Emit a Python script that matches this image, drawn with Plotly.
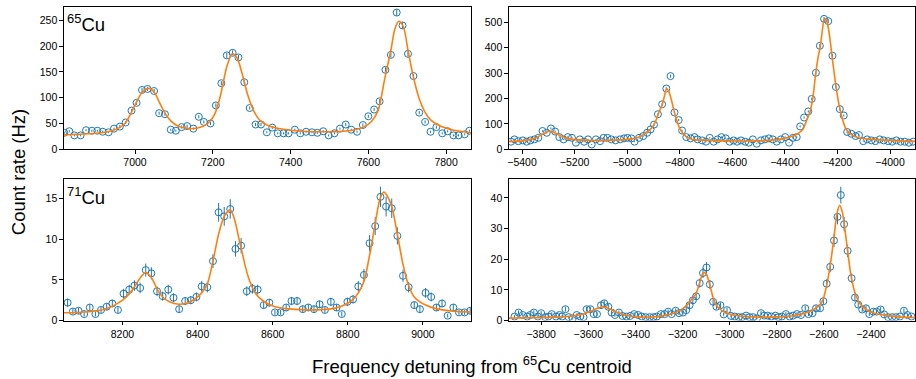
import plotly.graph_objects as go

# ---------------- data: 65Cu, low-frequency group (top-left) ----------------
tl_x = [6818, 6831, 6844, 6860, 6874, 6889, 6903, 6917, 6932, 6946, 6961, 6976, 6991, 7004, 7018,
        7032, 7049, 7062, 7077, 7092, 7105, 7120, 7134, 7150, 7164, 7177, 7194, 7208, 7222, 7236,
        7251, 7266, 7281, 7295, 7310, 7324, 7339, 7353, 7367, 7382, 7395, 7411, 7425, 7440, 7455,
        7469, 7484, 7498, 7513, 7527, 7542, 7556, 7571, 7586, 7600, 7615, 7629, 7644, 7658, 7673,
        7688, 7702, 7716, 7731, 7746, 7760, 7775, 7790, 7804, 7819, 7832, 7848, 7860]
tl_y = [32, 35, 27, 27, 37, 36, 36, 34, 33, 40, 44, 52, 75, 90, 115,
        117, 113, 70, 68, 38, 36, 43, 45, 40, 63, 53, 50, 85, 128, 182,
        187, 178, 130, 80, 48, 48, 33, 42, 31, 31, 31, 38, 31, 34, 33,
        32, 35, 27, 31, 40, 48, 38, 34, 47, 64, 77, 93, 154, 183, 265,
        240, 185, 142, 71, 53, 34, 43, 31, 35, 27, 27, 29, 36]
tl_err = [2, 2, 2, 2, 2, 2, 2, 2, 2, 2, 3, 3, 3, 4, 4,
          4, 4, 3, 3, 2, 2, 3, 3, 2, 3, 3, 3, 4, 4, 5,
          5, 5, 4, 3, 3, 3, 2, 3, 2, 2, 2, 2, 2, 2, 2,
          2, 2, 2, 2, 2, 3, 2, 2, 3, 3, 3, 4, 5, 5, 6,
          6, 5, 4, 3, 3, 2, 3, 2, 2, 2, 2, 2, 2]
tl_fit_x = [6816, 6880, 6930, 6960, 6976, 6991, 7004, 7018, 7036, 7050, 7062, 7077, 7092, 7110,
            7140, 7170, 7190, 7205, 7220, 7236, 7250, 7262, 7275, 7290, 7305, 7320, 7345, 7400,
            7500, 7560, 7590, 7608, 7625, 7643, 7658, 7668, 7678, 7690, 7702, 7716, 7730, 7745,
            7760, 7785, 7820, 7865]
tl_fit_y = [28, 30, 34, 42, 52, 72, 92, 110, 118, 110, 92, 70, 55, 45,
            40, 43, 52, 68, 105, 160, 185, 178, 148, 105, 75, 57, 45, 37,
            34, 37, 44, 54, 75, 140, 192, 232, 248, 238, 192, 140, 100, 73,
            57, 45, 37, 32]

# ---------------- data: 65Cu, high-frequency group (top-right) ----------------
tr_x = [-5442, -5429, -5414, -5397, -5382, -5368, -5353, -5338, -5322, -5306, -5290, -5274, -5258,
        -5242, -5226, -5210, -5195, -5180, -5164, -5149, -5135, -5119, -5103, -5090, -5075, -5060,
        -5044, -5027, -5012, -4999, -4984, -4972, -4955, -4939, -4924, -4911, -4898, -4883, -4867,
        -4851, -4835, -4820, -4804, -4791, -4775, -4759, -4744, -4732, -4715, -4700, -4686, -4671,
        -4656, -4641, -4625, -4610, -4595, -4582, -4567, -4551, -4537, -4522, -4507, -4491, -4476,
        -4461, -4446, -4431, -4415, -4399, -4384, -4370, -4355, -4342, -4327, -4311, -4298, -4282,
        -4267, -4251, -4235, -4219, -4206, -4191, -4176, -4163, -4147, -4131, -4118, -4102, -4087,
        -4071, -4056, -4039, -4024, -4007, -3992, -3976, -3960, -3944, -3928, -3912]
tr_y = [30, 39, 32, 35, 30, 35, 39, 45, 72, 65, 82, 70, 48,
        39, 48, 45, 26, 39, 30, 39, 19, 39, 32, 45, 45, 39,
        35, 39, 43, 45, 43, 30, 45, 52, 65, 78, 97, 138, 177,
        239, 288, 145, 115, 74, 48, 43, 48, 39, 35, 30, 45, 30,
        39, 48, 43, 30, 35, 30, 35, 30, 26, 39, 22, 35, 39,
        43, 39, 30, 39, 48, 26, 45, 48, 90, 125, 149, 198, 301,
        407, 513, 504, 368, 245, 158, 133, 68, 61, 52, 56, 32, 39,
        35, 32, 39, 35, 32, 30, 35, 30, 30, 26, 30]
tr_err = [2, 2, 2, 2, 2, 2, 2, 3, 3, 3, 4, 3, 3,
          2, 3, 3, 2, 2, 2, 2, 2, 2, 2, 3, 3, 2,
          2, 2, 3, 3, 3, 2, 3, 3, 3, 3, 4, 4, 5,
          5, 6, 4, 4, 3, 3, 3, 3, 2, 2, 2, 3, 2,
          2, 3, 3, 2, 2, 2, 2, 2, 2, 2, 2, 2, 2,
          3, 2, 2, 2, 3, 2, 3, 3, 4, 4, 4, 5, 6,
          7, 8, 8, 7, 5, 5, 4, 3, 3, 3, 3, 2, 2,
          2, 2, 2, 2, 2, 2, 2, 2, 2, 2, 2]
tr_fit_x = [-5450, -5400, -5370, -5347, -5325, -5310, -5296, -5280, -5265, -5252, -5230, -5208,
            -5150, -5050, -4990, -4960, -4942, -4928, -4917, -4905, -4898, -4890, -4882, -4875,
            -4867, -4858, -4850, -4842, -4833, -4825, -4816, -4808, -4801, -4793, -4785, -4770,
            -4753, -4720, -4600, -4480, -4430, -4395, -4375, -4357, -4345, -4332, -4319, -4304,
            -4294, -4282, -4274, -4265, -4256, -4250, -4242, -4235, -4228, -4221, -4213, -4206,
            -4194, -4180, -4168, -4158, -4150, -4120, -4080, -4000, -3905]
tr_fit_y = [31, 33, 38, 45, 58, 66, 71, 67, 59, 52, 44, 39,
            35, 36, 40, 46, 56, 66, 74, 86, 97, 115, 138, 155,
            174, 210, 239, 228, 200, 165, 129, 104, 84, 70, 58, 47,
            39, 36, 33, 34, 38, 45, 50, 58, 66, 78, 110, 149,
            200, 304, 360, 407, 480, 512, 508, 478, 430, 368, 305, 250,
            175, 115, 80, 68, 60, 45, 40, 35, 31]

# ---------------- data: 71Cu, low-frequency group (bottom-left) ----------------
bl_x = [8054, 8068, 8083, 8098, 8113, 8128, 8143, 8158, 8173, 8188, 8203, 8218, 8232, 8247, 8262,
        8277, 8292, 8307, 8322, 8336, 8351, 8367, 8382, 8397, 8411, 8426, 8441, 8456, 8471, 8487,
        8501, 8516, 8531, 8546, 8560, 8576, 8591, 8606, 8621, 8636, 8650, 8665, 8680, 8695, 8710,
        8725, 8739, 8755, 8770, 8784, 8799, 8814, 8828, 8843, 8858, 8873, 8887, 8902, 8917, 8932,
        8947, 8962, 8977, 8992, 9007, 9022, 9036, 9051, 9066, 9081, 9096, 9111, 9126]
bl_y = [2.2, 1.1, 1.2, 0.8, 1.6, 0.8, 1.3, 1.7, 2.1, 1.3, 3.3, 3.8, 4.3, 4.0, 6.2,
        5.8, 3.6, 3.0, 3.8, 2.8, 1.4, 2.4, 2.5, 2.9, 4.2, 4.1, 7.3, 13.3, 12.8, 13.7,
        8.8, 9.2, 3.6, 3.9, 3.8, 1.9, 2.2, 1.0, 1.0, 1.6, 2.4, 2.4, 1.4, 1.6, 1.4,
        2.0, 1.3, 2.3, 1.6, 0.8, 2.3, 2.6, 4.2, 5.6, 9.5, 11.6, 15.2, 14.0, 13.8, 10.4,
        5.5, 4.1, 1.9, 1.4, 3.4, 2.9, 1.6, 2.1, 0.6, 1.6, 1.0, 1.0, 1.2]
bl_err = [0.5, 0.35, 0.35, 0.3, 0.4, 0.3, 0.35, 0.4, 0.45, 0.35, 0.6, 0.6, 0.65, 0.65, 0.8,
          0.75, 0.6, 0.55, 0.6, 0.55, 0.4, 0.5, 0.5, 0.55, 0.65, 0.65, 0.85, 1.15, 1.15, 1.2,
          0.95, 0.95, 0.6, 0.6, 0.6, 0.45, 0.45, 0.3, 0.3, 0.4, 0.5, 0.5, 0.4, 0.4, 0.4,
          0.45, 0.35, 0.5, 0.4, 0.3, 0.5, 0.5, 0.65, 0.75, 1.0, 1.1, 1.25, 1.2, 1.2, 1.05,
          0.75, 0.65, 0.45, 0.4, 0.6, 0.55, 0.4, 0.45, 0.25, 0.4, 0.3, 0.3, 0.35]
bl_fit_x = [8043, 8100, 8150, 8175, 8203, 8220, 8234, 8248, 8262, 8277, 8292, 8307, 8325, 8350,
            8375, 8397, 8411, 8426, 8441, 8456, 8471, 8487, 8498, 8508, 8518, 8528, 8540, 8555,
            8575, 8600, 8650, 8700, 8750, 8785, 8814, 8828, 8843, 8858, 8873, 8886, 8896, 8904,
            8917, 8932, 8947, 8962, 8977, 9007, 9040, 9080, 9128]
bl_fit_y = [0.95, 1.05, 1.35, 1.8, 2.6, 3.4, 4.3, 5.3, 5.9, 5.3, 3.9, 2.9, 2.3, 2.0,
            2.2, 2.8, 3.4, 4.5, 7.3, 10.6, 12.8, 13.6, 12.5, 10.5, 8.5, 6.5, 4.7, 3.3,
            2.4, 1.8, 1.4, 1.3, 1.4, 1.8, 2.6, 3.4, 4.8, 8.0, 11.9, 15.0, 15.8, 15.4,
            14.0, 10.6, 6.9, 4.3, 2.9, 1.9, 1.4, 1.15, 1.05]

# ---------------- data: 71Cu, high-frequency group (bottom-right) ----------------
br_x = [-3913, -3896, -3878, -3859, -3847, -3831, -3814, -3800, -3783, -3769, -3755, -3737, -3722,
        -3711, -3697, -3683, -3666, -3649, -3634, -3620, -3607, -3591, -3577, -3563, -3546, -3532,
        -3515, -3501, -3487, -3470, -3455, -3438, -3422, -3405, -3388, -3373, -3356, -3339, -3323,
        -3309, -3292, -3276, -3261, -3246, -3229, -3215, -3198, -3184, -3170, -3156, -3142, -3127,
        -3113, -3098, -3084, -3070, -3056, -3039, -3025, -3011, -2994, -2978, -2961, -2947, -2930,
        -2915, -2900, -2884, -2867, -2853, -2838, -2823, -2806, -2792, -2778, -2761, -2745, -2731,
        -2714, -2697, -2679, -2665, -2648, -2633, -2616, -2602, -2588, -2573, -2557, -2542, -2528,
        -2514, -2499, -2482, -2468, -2454, -2437, -2421, -2407, -2390, -2376, -2359, -2344, -2327,
        -2310, -2294, -2277, -2260, -2245, -2228]
br_y = [1.3, 2.6, 1.8, 1.3, 1.8, 2.6, 1.3, 2.4, 1.1, 1.3, 2.1, 1.3, 1.8,
        1.3, 3.7, 1.1, 0.7, 1.8, 1.3, 1.1, 3.7, 3.7, 2.1, 2.1, 5.0, 5.6,
        4.5, 2.6, 1.8, 2.6, 1.5, 1.3, 1.5, 2.1, 1.8, 1.3, 1.1, 1.1, 1.1,
        1.3, 2.1, 2.1, 2.9, 2.1, 3.2, 2.4, 2.6, 3.4, 5.0, 6.6, 7.9, 12.2,
        15.5, 17.3, 11.8, 6.1, 4.5, 5.0, 2.0, 3.4, 1.5, 1.3, 1.1, 1.1, 1.6,
        1.1, 1.1, 0.7, 2.4, 1.6, 1.6, 1.3, 1.6, 1.1, 1.3, 2.1, 1.3, 1.6,
        2.1, 1.8, 4.0, 2.1, 2.4, 4.0, 4.0, 6.3, 12.0, 17.5, 26.1, 33.8, 40.9,
        31.4, 22.7, 13.8, 7.5, 5.2, 3.6, 4.0, 2.1, 2.9, 2.9, 3.6, 2.0, 1.1,
        1.1, 1.1, 1.3, 3.2, 1.8, 1.3]
br_err = [0.5, 0.7, 0.55, 0.5, 0.55, 0.7, 0.5, 0.65, 0.45, 0.5, 0.6, 0.5, 0.55,
          0.5, 0.8, 0.45, 0.35, 0.55, 0.5, 0.45, 0.8, 0.8, 0.6, 0.6, 0.95, 1.0,
          0.9, 0.7, 0.55, 0.7, 0.5, 0.5, 0.5, 0.6, 0.55, 0.5, 0.45, 0.45, 0.45,
          0.5, 0.6, 0.6, 0.7, 0.6, 0.75, 0.65, 0.7, 0.8, 0.95, 1.1, 1.2, 1.45,
          1.65, 1.75, 1.45, 1.05, 0.9, 0.95, 0.6, 0.8, 0.5, 0.5, 0.45, 0.45, 0.55,
          0.45, 0.45, 0.35, 0.65, 0.55, 0.55, 0.5, 0.55, 0.45, 0.5, 0.6, 0.5, 0.55,
          0.6, 0.55, 0.85, 0.6, 0.65, 0.85, 0.85, 1.05, 1.45, 1.75, 2.15, 2.45, 2.7,
          2.35, 2.0, 1.55, 1.15, 0.95, 0.8, 0.85, 0.6, 0.7, 0.7, 0.8, 0.6, 0.45,
          0.45, 0.45, 0.5, 0.75, 0.55, 0.5]
br_fit_x = [-3937, -3850, -3750, -3680, -3640, -3610, -3585, -3560, -3540, -3525, -3505, -3485,
            -3460, -3420, -3370, -3320, -3280, -3250, -3225, -3200, -3184, -3170, -3156, -3142,
            -3127, -3115, -3108, -3098, -3084, -3070, -3056, -3039, -3020, -2990, -2950, -2880,
            -2800, -2740, -2700, -2665, -2640, -2616, -2602, -2588, -2573, -2557, -2545, -2533,
            -2522, -2510, -2499, -2485, -2470, -2455, -2437, -2410, -2380, -2330, -2280, -2213]
br_fit_y = [0.8, 0.9, 1.1, 1.4, 1.8, 2.4, 3.2, 4.0, 4.4, 4.3, 3.7, 2.9,
            2.1, 1.4, 1.1, 1.2, 1.6, 2.1, 2.8, 3.8, 4.8, 6.0, 7.4, 8.9,
            12.4, 15.2, 15.7, 15.0, 11.6, 7.5, 5.0, 3.6, 2.7, 1.9, 1.4, 1.1,
            1.2, 1.5, 2.0, 2.8, 3.8, 5.2, 7.2, 11.5, 18.0, 27.0, 34.5, 37.6,
            35.5, 29.5, 22.7, 14.8, 9.6, 6.6, 4.6, 3.1, 2.3, 1.6, 1.2, 1.0]

# tick values and axis ranges
tl_xticks = [7000, 7200, 7400, 7600, 7800]
tl_yticks = [0, 50, 100, 150, 200, 250]
tr_xticks = [-5400, -5200, -5000, -4800, -4600, -4400, -4200, -4000]
tr_yticks = [0, 100, 200, 300, 400, 500]
bl_xticks = [8200, 8400, 8600, 8800, 9000]
bl_yticks = [0, 5, 10, 15]
br_xticks = [-3800, -3600, -3400, -3200, -3000, -2800, -2600, -2400]
br_yticks = [0, 10, 20, 30, 40]

panels = [
    (tl_x, tl_y, tl_err, tl_fit_x, tl_fit_y),
    (tr_x, tr_y, tr_err, tr_fit_x, tr_fit_y),
    (bl_x, bl_y, bl_err, bl_fit_x, bl_fit_y),
    (br_x, br_y, br_err, br_fit_x, br_fit_y),
]
for p in panels:
    assert len(p[0]) == len(p[1]) == len(p[2]), (len(p[0]), len(p[1]), len(p[2]))
    assert len(p[3]) == len(p[4]), (len(p[3]), len(p[4]))

BLUE = "#1f77b4"
ORANGE = "#ff7f0e"
W, H = 916, 379
FONT = "Liberation Sans, Arial, sans-serif"

fig = go.Figure()
for i, (x, y, e, fx, fy) in enumerate(panels):
    xa = "x" if i == 0 else f"x{i+1}"
    ya = "y" if i == 0 else f"y{i+1}"
    fig.add_trace(go.Scatter(
        x=x, y=y, mode="markers", xaxis=xa, yaxis=ya,
        marker=dict(symbol="circle-open", size=7, color=BLUE, line=dict(width=1, color=BLUE)),
        error_y=dict(type="data", array=e, visible=True, width=0, thickness=1, color=BLUE),
        showlegend=False, cliponaxis=True))
    fig.add_trace(go.Scatter(
        x=fx, y=fy, mode="lines", xaxis=xa, yaxis=ya,
        line=dict(color=ORANGE, width=1.6, shape="spline", smoothing=0.8),
        showlegend=False))

L = [62 / W, 470 / W]
R = [508 / W, 915 / W]
T = [1 - 151.7 / H, 1 - 7.3 / H]
B = [1 - 325.7 / H, 1 - 182.3 / H]


def ax(domain, rng, ticks, anchor):
    return dict(domain=domain, range=rng, anchor=anchor, tickmode="array", tickvals=ticks,
                showline=True, mirror=True, linecolor="black", linewidth=1,
                ticks="outside", ticklen=3.5, tickwidth=1, tickcolor="black",
                showgrid=False, zeroline=False,
                tickfont=dict(family=FONT, size=10.5, color="black"))


fig.update_layout(
    width=W, height=H, margin=dict(l=0, r=0, t=0, b=0),
    paper_bgcolor="white", plot_bgcolor="white", showlegend=False,
    xaxis=ax(L, [6817, 7864], tl_xticks, "y"),
    yaxis=ax(T, [0, 275.4], tl_yticks, "x"),
    xaxis2=ax(R, [-5450, -3905], tr_xticks, "y2"),
    yaxis2=ax(T, [0, 559], tr_yticks, "x2"),
    xaxis3=ax(L, [8044, 9128], bl_xticks, "y3"),
    yaxis3=ax(B, [0, 17.34], bl_yticks, "x3"),
    xaxis4=ax(R, [-3937, -2213], br_xticks, "y4"),
    yaxis4=ax(B, [0, 46.0], br_yticks, "x4"),
)

fig.add_annotation(text="<sup>65</sup>Cu", xref="x domain", yref="y domain", x=0.004, y=0.985,
                   xanchor="left", yanchor="top", showarrow=False,
                   font=dict(family=FONT, size=18.5, color="black"))
fig.add_annotation(text="<sup>71</sup>Cu", xref="x3 domain", yref="y3 domain", x=0.004, y=0.985,
                   xanchor="left", yanchor="top", showarrow=False,
                   font=dict(family=FONT, size=18.5, color="black"))
fig.add_annotation(text="Frequency detuning from <sup>65</sup>Cu centroid", xref="paper", yref="paper",
                   x=471 / W, y=1 - 371 / H, xanchor="center", yanchor="middle", showarrow=False,
                   font=dict(family=FONT, size=18.5, color="black"))
fig.add_annotation(text="Count rate (Hz)", xref="paper", yref="paper", textangle=-90,
                   x=16 / W, y=1 - 175 / H, xanchor="center", yanchor="middle", showarrow=False,
                   font=dict(family=FONT, size=18.5, color="black"))

fig.write_html("out.html", config={"displayModeBar": False},
               post_script="document.body.style.margin='0';document.body.style.overflow='hidden';")
